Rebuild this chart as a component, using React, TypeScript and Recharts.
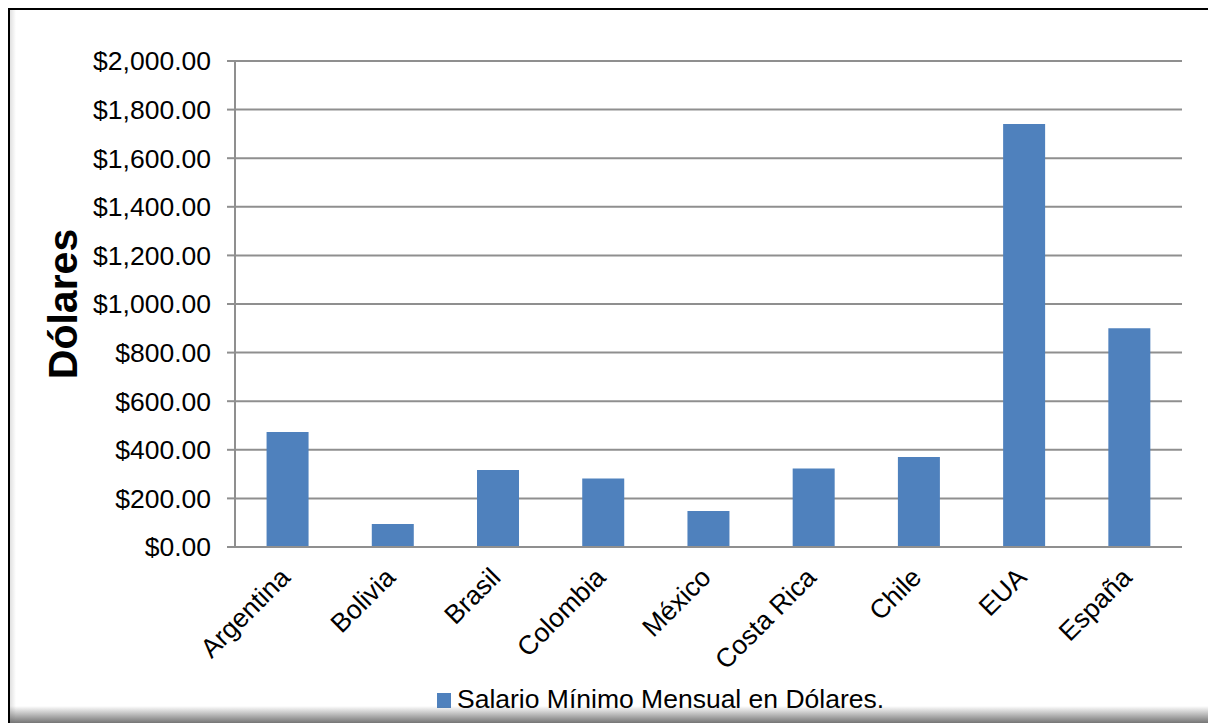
import React, { useEffect } from "react";
import { BarChart, Bar, XAxis, YAxis, CartesianGrid, Legend } from "recharts";

const countries = ["Argentina", "Bolivia", "Brasil", "Colombia", "México", "Costa Rica", "Chile", "EUA", "España"];
const salaries = [473, 95, 317, 282, 148, 323, 370, 1741, 900];
const yTicks = [0, 200, 400, 600, 800, 1000, 1200, 1400, 1600, 1800, 2000];
const seriesName = "Salario Mínimo Mensual en Dólares.";

const data = countries.map((country, i) => ({ country, salario: salaries[i] }));

const FONT = "'Liberation Sans', Arial, sans-serif";
const GRID = "#8f8f8f";
const BAR = "#4f81bd";
const FS = 26.5;

const money = (v: number) =>
  "$" + v.toLocaleString("en-US", { minimumFractionDigits: 2, maximumFractionDigits: 2 });

function CountryTick({ x, y, payload }: any) {
  return (
    <g transform={`translate(${x + 4},${y + 32})`}>
      <text x={0} y={0} textAnchor="end" transform="rotate(-45)" fontSize={FS} fill="#000" fontFamily={FONT}>
        {payload.value}
      </text>
    </g>
  );
}

function LegendBox() {
  return (
    <div style={{ display: "flex", alignItems: "flex-start", height: 40, fontFamily: FONT }}>
      <div style={{ width: 14, height: 15, background: BAR, marginTop: 10 }} />
      <span style={{ marginLeft: 6, marginTop: 3, fontSize: FS, lineHeight: `${FS}px`, color: "#000", whiteSpace: "nowrap" }}>
        {seriesName}
      </span>
    </div>
  );
}

export default function App() {
  // the framed chart fills the window exactly; keep the page from showing scrollbars
  useEffect(() => {
    document.documentElement.style.overflow = "hidden";
    document.body.style.overflow = "hidden";
  }, []);

  return (
    <div
      style={{
        position: "absolute",
        left: 8,
        top: 8,
        width: 1198,
        height: 713,
        borderTop: "2px solid #000",
        borderLeft: "2px solid #000",
        background: "#fff",
        overflow: "hidden",
        fontFamily: FONT,
      }}
    >
      <BarChart
        width={1198}
        height={713}
        data={data}
        margin={{ top: 51, right: 26, left: 0, bottom: 0 }}
        barCategoryGap="30%"
      >
        <CartesianGrid vertical={false} stroke={GRID} strokeWidth={2} />
        <XAxis
          dataKey="country"
          interval={0}
          height={136}
          tickLine={false}
          tickSize={0}
          tickMargin={0}
          axisLine={{ stroke: GRID, strokeWidth: 2 }}
          tick={<CountryTick />}
        />
        <YAxis
          width={225}
          domain={[0, 2000]}
          ticks={yTicks}
          interval={0}
          tickFormatter={money}
          tickSize={8}
          tickMargin={16}
          tickLine={{ stroke: GRID, strokeWidth: 2 }}
          axisLine={{ stroke: GRID, strokeWidth: 2 }}
          tick={{ fontSize: FS, fill: "#000", fontFamily: FONT }}
          label={{
            content: () => (
              <text
                x={67}
                y={294}
                textAnchor="middle"
                transform="rotate(-90, 67, 294)"
                fontSize={41}
                fontWeight="bold"
                fill="#000"
                fontFamily={FONT}
              >
                Dólares
              </text>
            ),
          }}
        />
        <Legend
          verticalAlign="bottom"
          align="left"
          height={40}
          wrapperStyle={{ left: 427, width: 650 }}
          content={() => <LegendBox />}
        />
        <Bar dataKey="salario" name={seriesName} fill={BAR} isAnimationActive={false} />
      </BarChart>
      {/* blank strip on the right edge, nothing is drawn there in the original */}
      <div
        style={{
          position: "absolute",
          right: 0,
          top: 0,
          width: 14,
          height: 700,
          background: "#fff",
          zIndex: 5,
          pointerEvents: "none",
        }}
      />
      {/* soft shading along the left and bottom edges of the frame */}
      <div
        style={{
          position: "absolute",
          left: 0,
          top: 0,
          bottom: 0,
          width: 6,
          background: "linear-gradient(to right, rgba(0,0,0,0.12), rgba(0,0,0,0))",
          pointerEvents: "none",
        }}
      />
      <div
        style={{
          position: "absolute",
          left: 0,
          right: 0,
          bottom: 0,
          height: 17,
          background: "linear-gradient(to bottom, rgba(120,120,120,0), rgba(110,110,110,0.95))",
          zIndex: 6,
          pointerEvents: "none",
        }}
      />
    </div>
  );
}
